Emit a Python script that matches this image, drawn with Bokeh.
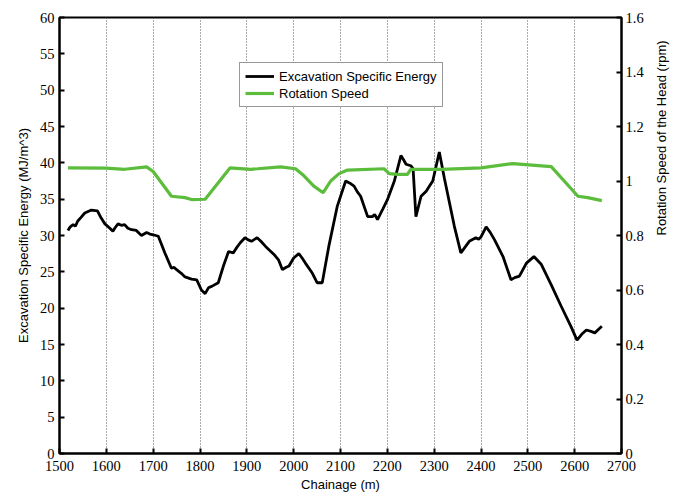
import math
from bokeh.plotting import figure
from bokeh.models import Range1d, LinearAxis, Legend, LegendItem, FixedTicker
from bokeh.embed import file_html
from bokeh.resources import INLINE

# Excavation Specific Energy (MJ/m^3) vs chainage (m)
ese_chainage = [1518, 1523, 1529, 1534, 1539, 1546, 1554, 1568, 1581, 1589, 1597, 1604, 1614,
                1619, 1625, 1632, 1639, 1646, 1654, 1664, 1670, 1675, 1686, 1693, 1700, 1711,
                1725, 1739, 1745, 1750, 1760, 1768, 1782, 1793, 1803, 1811, 1818, 1825, 1839,
                1850, 1861, 1871, 1879, 1886, 1896, 1903, 1910, 1922, 1930, 1940, 1958, 1968,
                1976, 1983, 1990, 2000, 2011, 2018, 2025, 2040, 2050, 2061, 2075, 2093, 2111,
                2120, 2129, 2136, 2143, 2158, 2168, 2173, 2179, 2190, 2200, 2215, 2229, 2234,
                2240, 2250, 2255, 2261, 2272, 2283, 2290, 2297, 2304, 2311, 2322, 2343, 2357,
                2366, 2375, 2389, 2395, 2400, 2411, 2420, 2429, 2447, 2464, 2472, 2482, 2497,
                2513, 2529, 2550, 2571, 2592, 2605, 2615, 2625, 2635, 2643, 2658]
ese_values = [30.7, 31.2, 31.5, 31.3, 32.0, 32.5, 33.1, 33.5, 33.4, 32.4, 31.6, 31.2, 30.6,
              31.1, 31.6, 31.4, 31.5, 31.0, 30.8, 30.7, 30.3, 30.0, 30.4, 30.2, 30.1, 29.9,
              27.6, 25.5, 25.6, 25.3, 24.8, 24.3, 24.0, 23.9, 22.5, 22.0, 22.8, 23.0, 23.5,
              25.8, 27.8, 27.6, 28.4, 29.0, 29.7, 29.4, 29.2, 29.7, 29.2, 28.5, 27.4, 26.6,
              25.3, 25.6, 25.8, 26.9, 27.5, 26.9, 26.2, 24.8, 23.5, 23.5, 28.5, 34.0, 37.5,
              37.2, 36.8, 36.0, 35.4, 32.6, 32.6, 32.9, 32.2, 33.6, 34.9, 37.5, 41.0, 40.5,
              39.8, 39.6, 39.2, 32.6, 35.4, 36.1, 36.8, 37.5, 39.5, 41.5, 37.8, 31.3, 27.6,
              28.4, 29.2, 29.7, 29.5, 29.8, 31.2, 30.4, 29.4, 27.1, 23.9, 24.2, 24.4, 26.2,
              27.1, 26.0, 23.2, 20.3, 17.5, 15.6, 16.4, 17.0, 16.8, 16.6, 17.5]

# Rotation speed of the head (rpm) vs chainage (m)
rpm_chainage = [1518, 1600, 1639, 1686, 1700, 1739, 1768, 1782, 1811, 1864, 1908, 1923,
                1972, 2004, 2022, 2043, 2063, 2079, 2097, 2115, 2193, 2204, 2222, 2243,
                2250, 2315, 2400, 2468, 2550, 2607, 2628, 2658]
rpm_values = [1.048, 1.047, 1.043, 1.052, 1.035, 0.944, 0.939, 0.932, 0.933, 1.048, 1.043, 1.045,
              1.052, 1.045, 1.019, 0.981, 0.957, 1.000, 1.027, 1.040, 1.045, 1.027, 1.024, 1.024,
              1.043, 1.043, 1.048, 1.064, 1.053, 0.944, 0.939, 0.928]

x_ticks = list(range(1500, 2701, 100))
y_ticks = list(range(0, 61, 5))
rpm_ticks = [0, 0.2, 0.4, 0.6, 0.8, 1.0, 1.2, 1.4, 1.6]

TICK_FONT = "Liberation Serif"
LABEL_FONT = "Liberation Sans"

p = figure(width=680, height=494, output_backend="svg", toolbar_location=None,
           x_range=Range1d(1500, 2700), y_range=Range1d(0, 60),
           min_border_left=59, min_border_right=59, min_border_top=17, min_border_bottom=39)
p.extra_y_ranges = {"rpm": Range1d(0, 1.6)}

p.outline_line_color = "black"
p.outline_line_width = 2
p.background_fill_color = "white"
p.border_fill_color = "white"

p.ygrid.visible = False
p.xgrid.ticker = FixedTicker(ticks=x_ticks[1:-1])
p.xgrid.grid_line_color = "#555555"
p.xgrid.grid_line_dash = "1 2"
p.xgrid.grid_line_width = 1

def style_axis(ax):
    ax.axis_line_width = 2
    ax.axis_line_color = "black"
    ax.major_tick_in = 5
    ax.major_tick_out = 0
    ax.major_tick_line_width = 2
    ax.minor_tick_line_color = None
    ax.major_label_text_font = TICK_FONT
    ax.major_label_text_font_size = "14.5px"
    ax.major_label_text_color = "black"
    ax.axis_label_text_font = LABEL_FONT
    ax.axis_label_text_font_size = "13px"
    ax.axis_label_text_font_style = "normal"
    ax.axis_label_text_color = "black"

xa = p.xaxis[0]
xa.ticker = FixedTicker(ticks=x_ticks)
xa.axis_label = "Chainage (m)"
style_axis(xa)
xa.major_label_standoff = 7
xa.axis_label_standoff = 3

ya = p.yaxis[0]
ya.ticker = FixedTicker(ticks=y_ticks)
ya.axis_label = "Excavation Specific Energy (MJ/m^3)"
style_axis(ya)
ya.major_label_standoff = 5
ya.axis_label_standoff = 6

ra = LinearAxis(y_range_name="rpm", ticker=FixedTicker(ticks=rpm_ticks),
                axis_label="Rotation Speed of the Head (rpm)")
style_axis(ra)
ra.major_label_standoff = 4
ra.axis_label_standoff = 15
ra.axis_label_orientation = math.pi / 2
p.add_layout(ra, "right")

r_ese = p.line(ese_chainage, ese_values, line_color="black", line_width=2.8)
r_rpm = p.line(rpm_chainage, rpm_values, line_color="#5cbc3c", line_width=3.2,
               y_range_name="rpm")

legend = Legend(items=[LegendItem(label="Excavation Specific Energy", renderers=[r_ese]),
                       LegendItem(label="Rotation Speed", renderers=[r_rpm])],
                location=(180, 346))
legend.label_text_font = LABEL_FONT
legend.label_text_font_size = "13px"
legend.label_text_color = "black"
legend.border_line_color = "#333333"
legend.border_line_width = 1
legend.padding = 5
legend.spacing = 1
legend.margin = 0
legend.glyph_width = 29
legend.glyph_height = 16
legend.label_height = 16
legend.label_standoff = 5
legend.background_fill_alpha = 1
p.add_layout(legend, "center")

open("out.html", "w").write(file_html(p, INLINE))
